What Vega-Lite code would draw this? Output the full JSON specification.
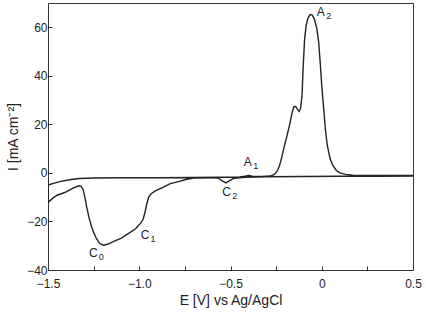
{
  "$schema": "https://vega.github.io/schema/vega-lite/v6.json",
  "width": 365,
  "height": 267,
  "autosize": {"type": "none"},
  "padding": {"left": 48, "top": 3, "right": 13, "bottom": 44},
  "background": "white",
  "config": {
    "font": "Liberation Sans",
    "view": {"stroke": "#333", "strokeWidth": 1},
    "axis": {
      "domain": false,
      "grid": false,
      "labelFlush": false,
      "labelOverlap": false,
      "tickColor": "#333",
      "tickSize": -4,
      "tickWidth": 1,
      "labelFont": "Liberation Sans",
      "labelFontSize": 12,
      "labelColor": "#222",
      "titleFont": "Liberation Sans",
      "titleFontSize": 14,
      "titleFontWeight": "normal",
      "titleColor": "#222"
    }
  },
  "datasets": {
    "cv": [
      {"o": 1, "E": 0.5, "I": -1.3},
      {"o": 2, "E": 0.3, "I": -1.35},
      {"o": 3, "E": 0.1, "I": -1.4},
      {"o": 4, "E": -0.1, "I": -1.5},
      {"o": 5, "E": -0.3, "I": -1.6},
      {"o": 6, "E": -0.42, "I": -1.8},
      {"o": 7, "E": -0.48, "I": -2.2},
      {"o": 8, "E": -0.505, "I": -3.2},
      {"o": 9, "E": -0.525, "I": -4.1},
      {"o": 10, "E": -0.545, "I": -3.3},
      {"o": 11, "E": -0.565, "I": -2.3},
      {"o": 12, "E": -0.6, "I": -2.0},
      {"o": 13, "E": -0.7, "I": -2.1},
      {"o": 14, "E": -0.74, "I": -2.6},
      {"o": 15, "E": -0.78, "I": -3.5},
      {"o": 16, "E": -0.83, "I": -4.4},
      {"o": 17, "E": -0.87, "I": -6.0},
      {"o": 18, "E": -0.91, "I": -7.3},
      {"o": 19, "E": -0.935, "I": -8.6},
      {"o": 20, "E": -0.948, "I": -10},
      {"o": 21, "E": -0.958, "I": -12.5},
      {"o": 22, "E": -0.968, "I": -16},
      {"o": 23, "E": -0.978, "I": -19},
      {"o": 24, "E": -0.99, "I": -20.5},
      {"o": 25, "E": -1.02, "I": -23},
      {"o": 26, "E": -1.06, "I": -25},
      {"o": 27, "E": -1.1, "I": -27},
      {"o": 28, "E": -1.14, "I": -28.2},
      {"o": 29, "E": -1.17, "I": -29.3},
      {"o": 30, "E": -1.195, "I": -29.8},
      {"o": 31, "E": -1.215, "I": -29.2},
      {"o": 32, "E": -1.235, "I": -27},
      {"o": 33, "E": -1.25, "I": -24.5},
      {"o": 34, "E": -1.262, "I": -22},
      {"o": 35, "E": -1.275, "I": -18.5},
      {"o": 36, "E": -1.288, "I": -14},
      {"o": 37, "E": -1.298, "I": -10},
      {"o": 38, "E": -1.307, "I": -7},
      {"o": 39, "E": -1.318, "I": -5.5},
      {"o": 40, "E": -1.33, "I": -5.3},
      {"o": 41, "E": -1.36, "I": -6.2},
      {"o": 42, "E": -1.4, "I": -7.8},
      {"o": 43, "E": -1.45, "I": -9.2},
      {"o": 44, "E": -1.475, "I": -10.5},
      {"o": 45, "E": -1.5, "I": -12.2},
      {"o": 46, "E": -1.5, "I": -5},
      {"o": 47, "E": -1.47, "I": -4.3},
      {"o": 48, "E": -1.43, "I": -3.5},
      {"o": 49, "E": -1.38, "I": -2.8},
      {"o": 50, "E": -1.33, "I": -2.3},
      {"o": 51, "E": -1.25, "I": -2.1},
      {"o": 52, "E": -1.1, "I": -2.0},
      {"o": 53, "E": -0.9, "I": -2.0},
      {"o": 54, "E": -0.7, "I": -1.9},
      {"o": 55, "E": -0.55, "I": -1.8},
      {"o": 56, "E": -0.45, "I": -1.7},
      {"o": 57, "E": -0.42, "I": -1.4},
      {"o": 58, "E": -0.4, "I": -1.1},
      {"o": 59, "E": -0.38, "I": -1.4},
      {"o": 60, "E": -0.33, "I": -1.5},
      {"o": 61, "E": -0.28, "I": -1.3},
      {"o": 62, "E": -0.26, "I": -0.6},
      {"o": 63, "E": -0.245, "I": 0.6},
      {"o": 64, "E": -0.232, "I": 2.8},
      {"o": 65, "E": -0.22, "I": 6.2},
      {"o": 66, "E": -0.205, "I": 11},
      {"o": 67, "E": -0.19, "I": 15.5},
      {"o": 68, "E": -0.174, "I": 20.5},
      {"o": 69, "E": -0.162, "I": 25},
      {"o": 70, "E": -0.152, "I": 27.3},
      {"o": 71, "E": -0.143, "I": 27.4},
      {"o": 72, "E": -0.135, "I": 26.4},
      {"o": 73, "E": -0.124, "I": 25.3},
      {"o": 74, "E": -0.116, "I": 26.5},
      {"o": 75, "E": -0.108, "I": 32},
      {"o": 76, "E": -0.101, "I": 45},
      {"o": 77, "E": -0.094, "I": 55},
      {"o": 78, "E": -0.085, "I": 61},
      {"o": 79, "E": -0.075, "I": 63.8},
      {"o": 80, "E": -0.064, "I": 65.2},
      {"o": 81, "E": -0.052, "I": 65},
      {"o": 82, "E": -0.04, "I": 63.3},
      {"o": 83, "E": -0.027, "I": 59.5},
      {"o": 84, "E": -0.017, "I": 54},
      {"o": 85, "E": -0.008, "I": 45},
      {"o": 86, "E": 0.0, "I": 36},
      {"o": 87, "E": 0.01, "I": 27},
      {"o": 88, "E": 0.02, "I": 18},
      {"o": 89, "E": 0.03, "I": 11.5},
      {"o": 90, "E": 0.045, "I": 6},
      {"o": 91, "E": 0.06, "I": 3.2},
      {"o": 92, "E": 0.08, "I": 1.0},
      {"o": 93, "E": 0.1, "I": 0.0},
      {"o": 94, "E": 0.13, "I": -0.6},
      {"o": 95, "E": 0.17, "I": -0.9},
      {"o": 96, "E": 0.25, "I": -1.0},
      {"o": 97, "E": 0.5, "I": -1.0}
    ],
    "labels": [
      {"t": "C", "s": "0", "E": -1.252, "I": -33},
      {"t": "C", "s": "1", "E": -0.968, "I": -25.6},
      {"t": "C", "s": "2", "E": -0.521, "I": -7.7},
      {"t": "A", "s": "1", "E": -0.406, "I": 4.7},
      {"t": "A", "s": "2", "E": -0.006, "I": 66.3}
    ]
  },
  "layer": [
    {
      "data": {"name": "cv"},
      "mark": {"type": "line", "color": "#222", "strokeWidth": 1.4, "clip": true},
      "encoding": {
        "x": {
          "field": "E",
          "type": "quantitative",
          "scale": {"domain": [-1.5, 0.5], "nice": false, "zero": false},
          "axis": {
            "title": "E [V] vs Ag/AgCl",
            "values": [-1.5, -1.25, -1, -0.75, -0.5, -0.25, 0, 0.25, 0.5],
            "labelExpr": "datum.value * 2 == round(datum.value * 2) ? (datum.value == 0 ? '0' : format(datum.value, '.1f')) : ''",
            "labelPadding": 12,
            "titlePadding": 4
          }
        },
        "y": {
          "field": "I",
          "type": "quantitative",
          "scale": {"domain": [-40, 70], "nice": false, "zero": false},
          "axis": {
            "title": "I [mA cm⁻²]",
            "values": [-40, -30, -20, -10, 0, 10, 20, 30, 40, 50, 60],
            "labelExpr": "datum.value % 20 == 0 ? format(datum.value, 'd') : ''",
            "labelPadding": 5,
            "titlePadding": 6
          }
        },
        "order": {"field": "o", "type": "quantitative"}
      }
    },
    {
      "data": {"name": "labels"},
      "mark": {"type": "text", "fontSize": 12, "color": "#222", "align": "center", "baseline": "middle"},
      "encoding": {
        "x": {"field": "E", "type": "quantitative"},
        "y": {"field": "I", "type": "quantitative"},
        "text": {"field": "t"}
      }
    },
    {
      "data": {"name": "labels"},
      "mark": {"type": "text", "fontSize": 9, "color": "#222", "align": "center", "baseline": "middle", "dx": 8, "dy": 4},
      "encoding": {
        "x": {"field": "E", "type": "quantitative"},
        "y": {"field": "I", "type": "quantitative"},
        "text": {"field": "s"}
      }
    }
  ]
}
